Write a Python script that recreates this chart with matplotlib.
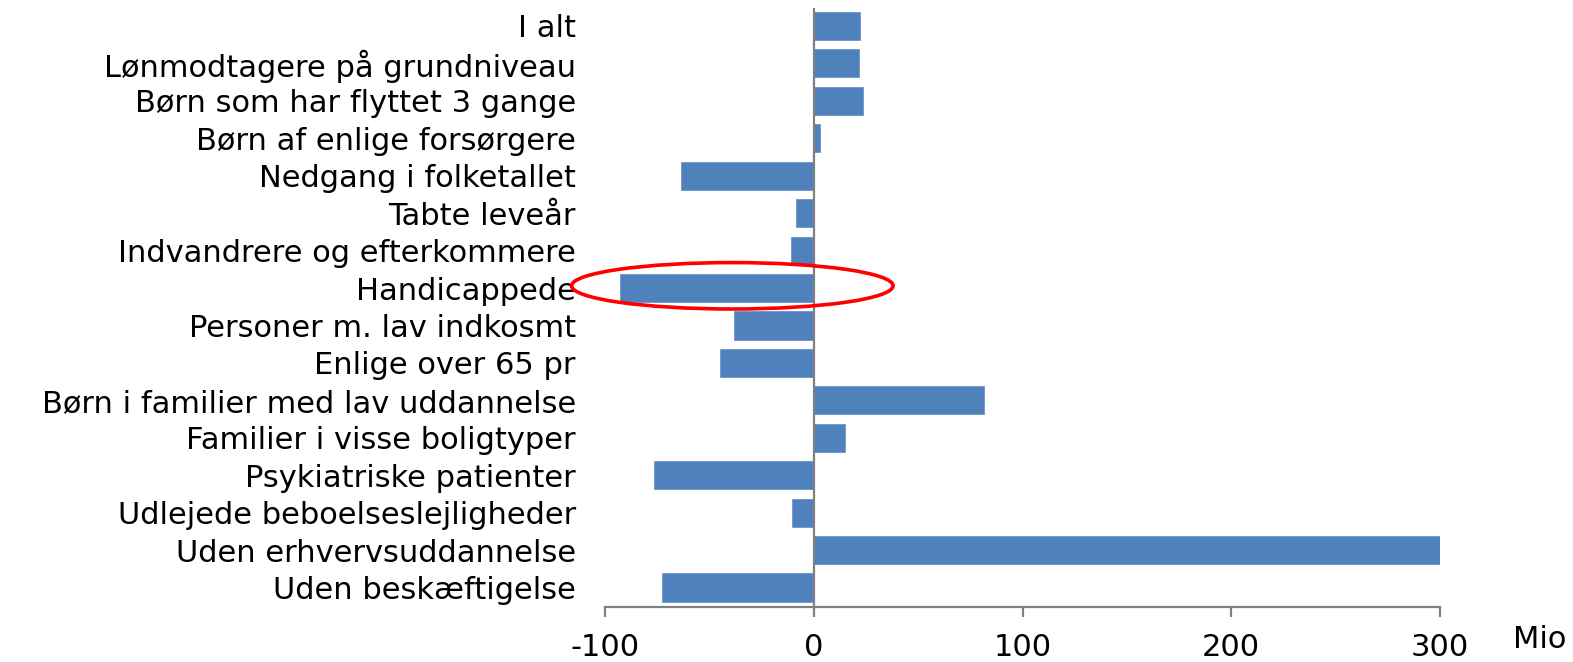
import matplotlib
matplotlib.use("Agg")
import matplotlib.pyplot as plt
from matplotlib.patches import Ellipse

categories = [
    "Uden beskæftigelse",
    "Uden erhvervsuddannelse",
    "Udlejede beboelseslejligheder",
    "Psykiatriske patienter",
    "Familier i visse boligtyper",
    "Børn i familier med lav uddannelse",
    "Enlige over 65 pr",
    "Personer m. lav indkosmt",
    "Handicappede",
    "Indvandrere og efterkommere",
    "Tabte leveår",
    "Nedgang i folketallet",
    "Børn af enlige forsørgere",
    "Børn som har flyttet 3 gange",
    "Lønmodtagere på grundniveau",
    "I alt",
]
values = [-72.6, 300, -10.6, -76.4, 14.9, 81.7, -44.7, -38.0, -92.8,
          -11.0, -8.7, -63.5, 3.0, 23.5, 21.6, 22.0]
xticks = [-100, 0, 100, 200, 300]
highlight = "Handicappede"

plt.rcParams['font.family'] = ['DejaVu Sans']

fig = plt.figure(figsize=(15.73, 6.62), dpi=100)
ax = fig.add_axes([605/1573, 1-607/662, (1440-605)/1573, (607-8)/662])

ypos = list(range(len(categories)))
ax.barh(ypos, values, height=0.75, color="#4F81BD", edgecolor="#6E96C8", linewidth=0.6, zorder=2)
ax.axvline(0, color="#808080", linewidth=1.6, zorder=3)

ax.set_xlim(-100, 300)
ax.set_ylim(-0.52, len(categories) - 0.52)
ax.set_xticks(xticks)
ax.set_xticklabels([str(t) for t in xticks], fontsize=22)
ax.set_yticks(ypos)
ax.set_yticklabels(categories, fontsize=22)

for s in ["top", "right", "left"]:
    ax.spines[s].set_visible(False)
ax.spines["bottom"].set_color("#808080")
ax.spines["bottom"].set_linewidth(1.6)
ax.tick_params(axis="y", length=0, pad=21)
ax.tick_params(axis="x", direction="out", length=7.5, width=1.6, color="#808080", pad=11)

fig.text(1540/1573, 1-640/662, "Mio", fontsize=22, ha="center", va="center")

hi = categories.index(highlight)
ell = Ellipse((-39, hi + 0.06), 154, 1.24, fill=False, edgecolor="#FF0000",
              linewidth=2.6, clip_on=False, zorder=4)
ax.add_patch(ell)

fig.savefig("out.png", dpi=100)
